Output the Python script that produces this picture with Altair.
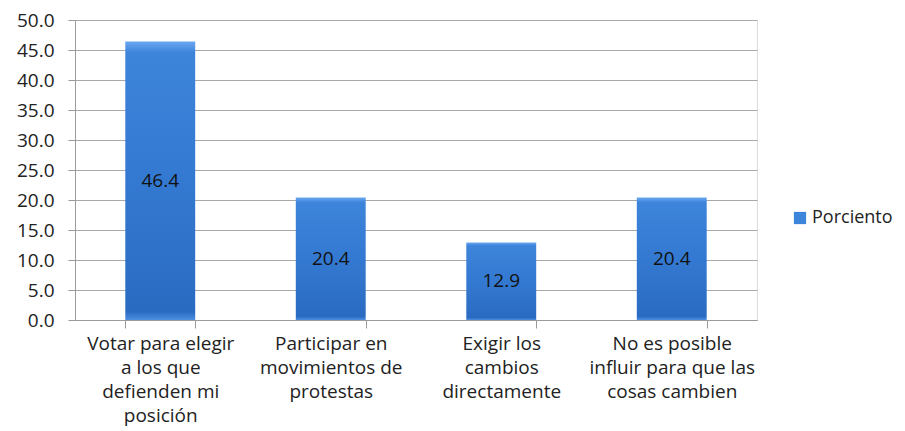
import altair as alt
import pandas as pd

categories = [
    "Votar para elegir|a los que|defienden mi|posición",
    "Participar en|movimientos de|protestas",
    "Exigir los|cambios|directamente",
    "No es posible|influir para que las|cosas cambien",
]
values = [46.4, 20.4, 12.9, 20.4]
series_name = "Porciento"
y_ticks = [0, 5, 10, 15, 20, 25, 30, 35, 40, 45, 50]

df = pd.DataFrame({"cat": categories, "val": values, "serie": [series_name] * len(values)})
df["mid"] = df["val"] / 2

FONT = "Open Sans"
FS = 19
TXT = "#222222"
AXC = "#9a9a9a"

grad = alt.Gradient(
    gradient="linear",
    x1=0, y1=0, x2=0, y2=1,
    stops=[
        alt.GradientStop(color="#6aa8f0", offset=0),
        alt.GradientStop(color="#3d84db", offset=0.04),
        alt.GradientStop(color="#3479d1", offset=0.5),
        alt.GradientStop(color="#2a6bc2", offset=0.97),
        alt.GradientStop(color="#4d8fe0", offset=1),
    ],
)

x_scale = alt.Scale(paddingInner=0.59, paddingOuter=0.295)
y_scale = alt.Scale(domain=[0, 50], nice=False)

x_axis = alt.Axis(
    title=None,
    labelAngle=0,
    labelExpr="split(datum.label, '|')",
    labelFontSize=FS,
    labelFont=FONT,
    labelColor=TXT,
    labelLineHeight=24,
    labelPadding=6,
    labelLimit=300,
    tickBand="extent",
    tickSize=8,
    tickColor=AXC,
    domainColor=AXC,
    grid=False,
)
y_axis = alt.Axis(
    title=None,
    values=y_ticks,
    format=".1f",
    labelOverlap=False,
    labelFontSize=FS,
    labelFont=FONT,
    labelColor=TXT,
    labelPadding=14,
    tickSize=7,
    tickColor=AXC,
    domainColor=AXC,
    gridColor="#a8a8a8",
    gridWidth=1,
)

x_enc = alt.X("cat:N", sort=categories, scale=x_scale, axis=x_axis)

bars = alt.Chart(df).mark_bar(fill=grad).encode(
    x=x_enc,
    y=alt.Y("val:Q", scale=y_scale, axis=y_axis),
)

legend_layer = alt.Chart(df).mark_square(opacity=0, filled=True).encode(
    x=x_enc,
    y=alt.Y("val:Q", scale=y_scale, axis=y_axis),
    color=alt.Color(
        "serie:N",
        scale=alt.Scale(range=["#3d84db"]),
        legend=alt.Legend(
            title=None,
            orient="none",
            legendX=716,
            legendY=189,
            symbolType="square",
            symbolSize=150,
            symbolOpacity=1,
            symbolFillColor="#3d84db",
            labelFontSize=18,
            labelFont=FONT,
            labelColor=TXT,
            labelOffset=3,
        ),
    ),
)

labels = alt.Chart(df).mark_text(
    fontSize=FS, font=FONT, color="#111111", baseline="middle", align="center"
).encode(
    x=x_enc,
    y=alt.Y("mid:Q", scale=y_scale, axis=y_axis),
    text=alt.Text("val:Q", format=".1f"),
)

chart = (
    alt.layer(bars, legend_layer, labels)
    .properties(
        width=682,
        height=300,
        autosize=alt.AutoSizeParams(type="none"),
        padding={"left": 67, "top": 12, "right": 140, "bottom": 118},
    )
    .configure_view(stroke=None)
    .configure(background="white")
)

chart.save("out.html", embed_options={"renderer": "svg", "actions": False})
